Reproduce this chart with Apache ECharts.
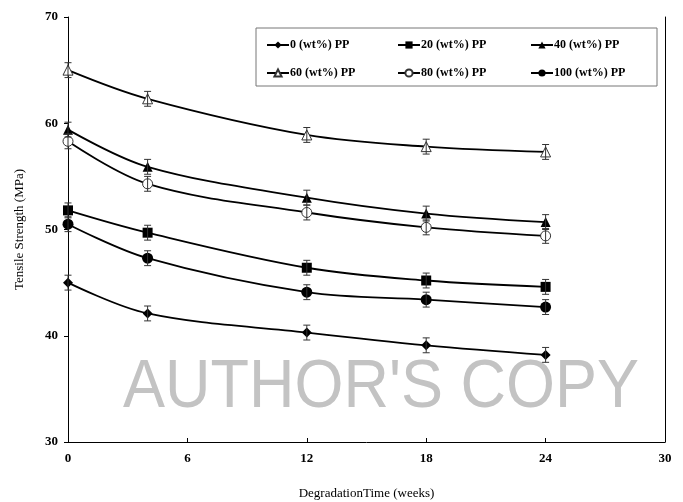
<!DOCTYPE html>
<html>
<head>
<meta charset="utf-8">
<script src="https://cdn.jsdelivr.net/npm/echarts@6/dist/echarts.min.js"></script>
<style>html,body{margin:0;padding:0;background:#fff}#c{width:683px;height:502px}</style>
</head>
<body>
<div id="c"></div>
<script>
const weeks = [0, 4, 12, 18, 24];
const seriesNames = ['0 (wt%) PP', '20 (wt%) PP', '40 (wt%) PP', '60 (wt%) PP', '80 (wt%) PP', '100 (wt%) PP'];
const pp0   = [45.0, 42.1, 40.3, 39.1, 38.2];
const pp20  = [51.8, 49.7, 46.4, 45.2, 44.6];
const pp40  = [59.4, 55.9, 53.0, 51.5, 50.7];
const pp60  = [65.0, 62.3, 58.9, 57.8, 57.3];
const pp80  = [58.3, 54.3, 51.6, 50.2, 49.4];
const pp100 = [50.5, 47.3, 44.1, 43.4, 42.7];
const err   = [0.7, 0.7, 0.7, 0.7, 0.7];
const xTicks = [0, 6, 12, 18, 24, 30];
const yTicks = [30, 40, 50, 60, 70];

const values = [pp0, pp20, pp40, pp60, pp80, pp100];
const symbols = ['diamond', 'rect', 'triangle', 'triangle', 'circle', 'circle'];
const sizes = [10, 10, 10, 10, 10, 11];
const hollow = [false, false, false, true, true, false];

const FONT = 'Liberation Serif';
const chart = echarts.init(document.getElementById('c'), null, {renderer: 'canvas'});

function renderErr(params, api) {
  const x = api.value(0), lo = api.value(1), hi = api.value(2);
  const a = api.coord([x, lo]), b = api.coord([x, hi]);
  const hw = 3.5;
  const st = {stroke: '#333', lineWidth: 1};
  return {type: 'group', children: [
    {type: 'line', shape: {x1: a[0], y1: a[1], x2: b[0], y2: b[1]}, style: st},
    {type: 'line', shape: {x1: a[0] - hw, y1: a[1], x2: a[0] + hw, y2: a[1]}, style: st},
    {type: 'line', shape: {x1: b[0] - hw, y1: b[1], x2: b[0] + hw, y2: b[1]}, style: st}
  ]};
}

const series = [];
values.forEach((vals, i) => {
  series.push({
    name: seriesNames[i],
    type: 'line',
    smooth: 0.35,
    data: weeks.map((w, j) => [w, vals[j]]),
    symbol: symbols[i],
    symbolSize: sizes[i],
    showAllSymbol: true,
    lineStyle: {color: '#000', width: 1.8},
    itemStyle: hollow[i] ? {color: '#fff', borderColor: '#333', borderWidth: 1} : {color: '#000', borderColor: '#000', borderWidth: 0},
    z: 3
  });
  series.push({
    type: 'custom',
    renderItem: renderErr,
    data: weeks.map((w, j) => [w, vals[j] - err[j], vals[j] + err[j]]),
    z: 4,
    silent: true
  });
});

const legendPos = [[266, 39], [397, 39], [530, 39], [266, 67], [397, 67], [530, 67]];
const legends = seriesNames.map((n, i) => ({
  data: [n],
  left: legendPos[i][0],
  top: legendPos[i][1],
  padding: 0,
  itemWidth: 22,
  itemHeight: 9,
  itemGap: 0,
  selectedMode: false,
  textStyle: {fontFamily: FONT, fontWeight: 'bold', fontSize: 12, color: '#000', padding: [0, 0, 0, -4]}
}));

chart.setOption({
  animation: false,
  backgroundColor: '#fff',
  grid: {left: 68, right: 18, top: 17, bottom: 60, containLabel: false, outerBoundsMode: 'none'},
  legend: legends,
  graphic: [
    {type: 'rect', shape: {x: 256, y: 28, width: 401, height: 58}, style: {fill: 'none', stroke: '#777', lineWidth: 1}, z: 10},
    {type: 'text', left: 123, top: 354, scaleY: 1.08, style: {text: "AUTHOR'S COPY", fontFamily: 'Liberation Sans', fontSize: 63, fill: '#c3c3c3'}, z: 0}
  ],
  xAxis: {
    type: 'value', min: xTicks[0], max: xTicks[xTicks.length - 1], interval: 6,
    name: 'DegradationTime (weeks)', nameLocation: 'middle', nameGap: 45,
    nameTextStyle: {fontFamily: FONT, fontSize: 13, color: '#000'},
    axisLine: {lineStyle: {color: '#000', width: 1}},
    axisTick: {inside: true, length: 4, lineStyle: {color: '#000'}},
    axisLabel: {fontFamily: FONT, fontWeight: 'bold', fontSize: 13, color: '#000', margin: 10},
    splitLine: {show: false}
  },
  yAxis: [{
    type: 'value', min: yTicks[0], max: yTicks[yTicks.length - 1], interval: 10,
    name: 'Tensile Strength (MPa)', nameLocation: 'middle', nameGap: 42,
    nameTextStyle: {fontFamily: FONT, fontSize: 13, color: '#000'},
    axisLine: {show: true, lineStyle: {color: '#000', width: 1}},
    axisTick: {show: true, length: 4, lineStyle: {color: '#000'}},
    axisLabel: {fontFamily: FONT, fontWeight: 'bold', fontSize: 13, color: '#000', margin: 10},
    splitLine: {show: false}
  }, {
    type: 'value', position: 'right', min: yTicks[0], max: yTicks[yTicks.length - 1], interval: 10,
    axisLine: {show: true, lineStyle: {color: '#000', width: 1}},
    axisTick: {show: false}, axisLabel: {show: false}, splitLine: {show: false}
  }],
  series: series
});
</script>
</body>
</html>
